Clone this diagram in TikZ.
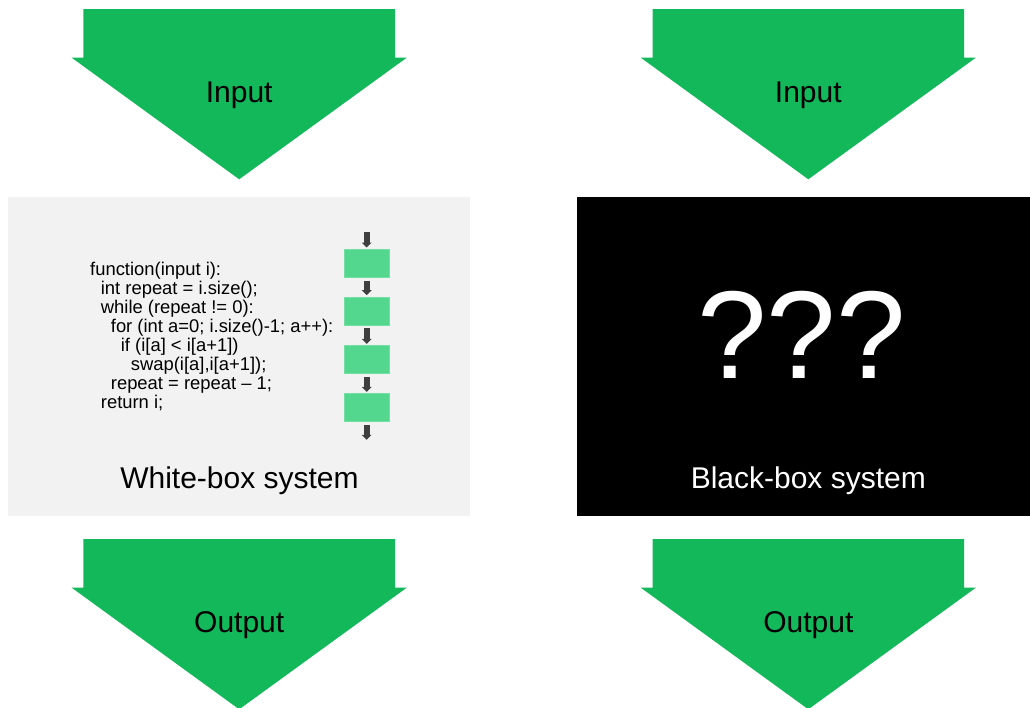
\documentclass[tikz,border=0pt]{standalone}
\usepackage{fontspec}
\setmainfont{Liberation Sans}
\usetikzlibrary{arrows.meta}

\definecolor{flowgreen}{HTML}{12B85A}
\definecolor{stepgreen}{HTML}{53D68D}
\definecolor{panelgray}{HTML}{F2F2F2}
\definecolor{tipgray}{HTML}{3F3F3F}

\tikzset{
  bigarrow/.pic={
    \fill[flowgreen] (-155.8,0) -- (155.8,0) -- (155.8,48.7) -- (167.5,48.7)
      -- (0,170.3) -- (-167.5,48.7) -- (-155.8,48.7) -- cycle;
  },
  biglabel/.style={anchor=base, inner sep=0pt, font=\fontsize{30}{36}\selectfont},
  codeline/.style={anchor=base west, inner sep=0pt, font=\fontsize{18.4}{19}\selectfont},
  stepbox/.style={fill=stepgreen, draw=stepgreen!80!white, line width=0.6pt,
    minimum width=44.7pt, minimum height=28pt, inner sep=0pt},
  smallarrow/.style={draw=tipgray, line width=6.4pt,
    -{Triangle[width=9.6pt,length=5pt]}, shorten <=3pt, shorten >=1.5pt},
}

\begin{document}
\begin{tikzpicture}[x=1pt, y=-1pt]
  \useasboundingbox (0,0) rectangle (1030,707);

  % input / output flow arrows
  \pic at (239.2,9) {bigarrow};
  \pic at (808.3,9) {bigarrow};
  \pic at (239.2,539) {bigarrow};
  \pic at (808.3,539) {bigarrow};
  \node[biglabel] (inL)  at (239.2,102.2) {Input};
  \node[biglabel] (inR)  at (808.3,102.2) {Input};
  \node[biglabel] (outL) at (239.2,632) {Output};
  \node[biglabel] (outR) at (808.3,632) {Output};

  % the two systems
  \fill[panelgray] (8,197.3) rectangle (470,515.8);
  \fill[black] (577.3,197.3) rectangle (1030,515.8);

  % white box: source code
  \node[codeline] (c1) at (90,275.3)    {function(input i):};
  \node[codeline] (c2) at (100.7,294.3) {int repeat = i.size();};
  \node[codeline] (c3) at (100.7,313.3) {while (repeat != 0):};
  \node[codeline] (c4) at (110.7,332.3) {for (int a=0; i.size()-1; a++):};
  \node[codeline] (c5) at (120.7,351.3) {if (i[a] < i[a+1])};
  \node[codeline] (c6) at (130.7,370.5) {swap(i[a],i[a+1]);};
  \node[codeline] (c7) at (110.7,389.3) {repeat = repeat – 1;};
  \node[codeline] (c8) at (100.7,408.3) {return i;};

  % white box: chain of steps
  \node[stepbox] (s1) at (366.7,263.3) {};
  \node[stepbox] (s2) at (366.7,311)   {};
  \node[stepbox] (s3) at (366.7,359.7) {};
  \node[stepbox] (s4) at (366.7,407.7) {};
  \coordinate (sIn)  at (366.7,229.3);
  \coordinate (sOut) at (366.7,439.8);
  \draw[smallarrow] (sIn) -- (s1.north);
  \draw[smallarrow] (s1.south) -- (s2.north);
  \draw[smallarrow] (s2.south) -- (s3.north);
  \draw[smallarrow] (s3.south) -- (s4.north);
  \draw[smallarrow, shorten >=0pt] (s4.south) -- (sOut);

  \node[biglabel] (wlabel) at (239.5,488) {White-box system};

  % black box
  \node[anchor=base, inner sep=0pt, text=white, font=\fontsize{125}{128}\selectfont]
    (qq) at (801.7,378.3) {???};
  \node[biglabel, text=white] (blabel) at (808.3,488) {Black-box system};
\end{tikzpicture}
\end{document}
